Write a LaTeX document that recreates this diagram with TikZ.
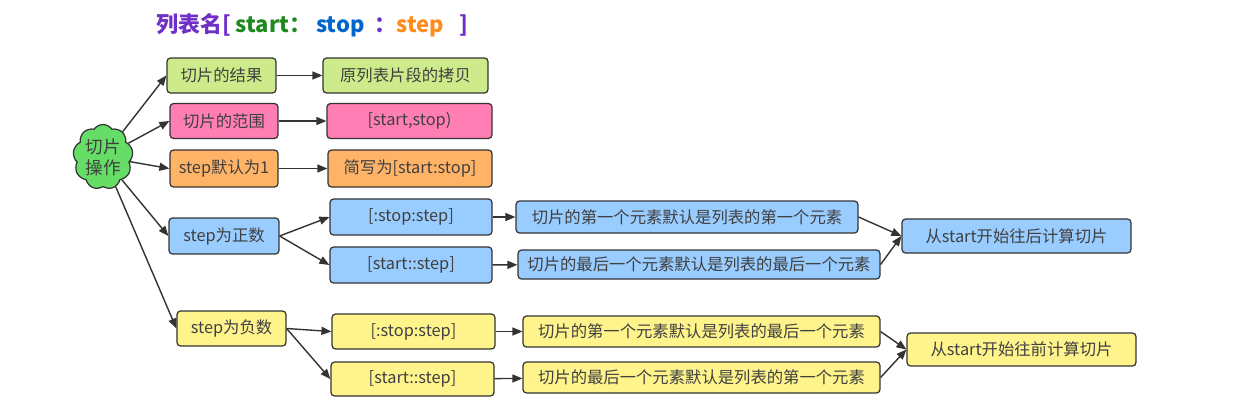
\documentclass[tikz,border=0pt]{standalone}
\usepackage{fontspec}
\setmainfont{Noto Sans CJK SC}
\usetikzlibrary{arrows.meta,shapes.symbols}
\definecolor{cgreen}{HTML}{CDEB8B}
\definecolor{cpink}{HTML}{FF7EB4}
\definecolor{corange}{HTML}{FFB366}
\definecolor{cblue}{HTML}{99CCFF}
\definecolor{cyellow}{HTML}{FFF48C}
\definecolor{ccloud}{HTML}{66DD66}
\definecolor{tpurple}{HTML}{7030C8}
\definecolor{tgreen}{HTML}{1E8A1E}
\definecolor{tblue}{HTML}{0066CC}
\definecolor{torange}{HTML}{FF8C1A}
\tikzset{
  box/.style={draw=black!80,line width=0.7pt,rounded corners=2pt,text=black!75,
    font=\fontsize{9.3}{11}\selectfont,inner sep=0pt,minimum height=0.7cm},
  conn/.style={-{Triangle[length=2mm,width=1.6mm]},draw=black!80,line width=0.8pt}
}
\begin{document}
\begin{tikzpicture}[x=0.02cm,y=-0.02cm]
  \useasboundingbox (0,0) rectangle (1241,400);
  \node (title) at (312,25) {\fontsize{12.5}{14}\selectfont\bfseries
    \textcolor{tpurple}{列表名[}\ \textcolor{tgreen}{start：}\ \textcolor{tblue}{stop}\ \ \textcolor{tpurple}{：}\textcolor{torange}{step}\ \ \ \textcolor{tpurple}{]}};
  \node[cloud,cloud puffs=9,cloud puff arc=110,aspect=0.9,draw=black!80,line width=0.7pt,
    fill=ccloud,minimum width=1.2cm,minimum height=1.3cm,inner sep=0pt,text=black!75,
    font=\fontsize{10}{12}\selectfont,align=center] (op) at (103,157) {切片\\操作};
  % rows on top
  \node[box,fill=cgreen,minimum width=2.18cm] (res) at (221.5,75.5) {切片的结果};
  \node[box,fill=cgreen,minimum width=3.3cm] (copy) at (405.5,75.5) {原列表片段的拷贝};
  \node[box,fill=cpink,minimum width=2.16cm] (rng) at (224,121) {切片的范围};
  \node[box,fill=cpink,minimum width=3.3cm] (half) at (409.5,121) {[start,stop)};
  \node[box,fill=corange,minimum width=2.16cm,minimum height=0.74cm] (dflt) at (224,168.5) {step默认为1};
  \node[box,fill=corange,minimum width=3.28cm,minimum height=0.74cm] (short) at (410,168.5) {简写为[start:stop]};
  % positive step
  \node[box,fill=cblue,minimum width=2.2cm,minimum height=0.72cm] (pos) at (224,236) {step为正数};
  \node[box,fill=cblue,minimum width=3.24cm,minimum height=0.72cm] (pa) at (411,217) {[:stop:step]};
  \node[box,fill=cblue,minimum width=3.24cm,minimum height=0.72cm] (pb) at (411,265) {[start::step]};
  \node[box,fill=cblue,minimum width=6.84cm,minimum height=0.64cm] (pa2) at (687,217) {切片的第一个元素默认是列表的第一个元素};
  \node[box,fill=cblue,minimum width=7.24cm,minimum height=0.58cm] (pb2) at (699,264.5) {切片的最后一个元素默认是列表的最后一个元素};
  \node[box,fill=cblue,minimum width=4.58cm,minimum height=0.68cm] (pres) at (1016.5,236) {从start开始往后计算切片};
  % negative step
  \node[box,fill=cyellow,minimum width=2.18cm] (neg) at (231.5,328.5) {step为负数};
  \node[box,fill=cyellow,minimum width=3.26cm] (na) at (413.5,331.5) {[:stop:step]};
  \node[box,fill=cyellow,minimum width=3.26cm,minimum height=0.68cm] (nb) at (412.5,379) {[start::step]};
  \node[box,fill=cyellow,minimum width=7.14cm,minimum height=0.62cm] (na2) at (701.5,331.5) {切片的第一个元素默认是列表的最后一个元素};
  \node[box,fill=cyellow,minimum width=7.14cm,minimum height=0.62cm] (nb2) at (701.5,377.5) {切片的最后一个元素默认是列表的第一个元素};
  \node[box,fill=cyellow,minimum width=4.58cm,minimum height=0.66cm] (nres) at (1021.5,349.5) {从start开始往前计算切片};
  \foreach \n in {res,rng,dflt,pos,neg}
    \draw[conn] (op) -- (\n.west);
  \draw[conn] (res) -- (copy);
  \draw[conn] (rng) -- (half);
  \draw[conn] (dflt) -- (short);
  \draw[conn] (pos.east) -- (pa.west);
  \draw[conn] (pos.east) -- (pb.west);
  \draw[conn] (pa) -- (pa2);
  \draw[conn] (pb) -- (pb2);
  \draw[conn] (pa2.east) -- (pres.west);
  \draw[conn] (pb2.east) -- (pres.west);
  \draw[conn] (neg.east) -- (na.west);
  \draw[conn] (neg.east) -- (nb.west);
  \draw[conn] (na) -- (na2);
  \draw[conn] (nb) -- (nb2);
  \draw[conn] (na2.east) -- (nres.west);
  \draw[conn] (nb2.east) -- (nres.west);
\end{tikzpicture}
\end{document}
